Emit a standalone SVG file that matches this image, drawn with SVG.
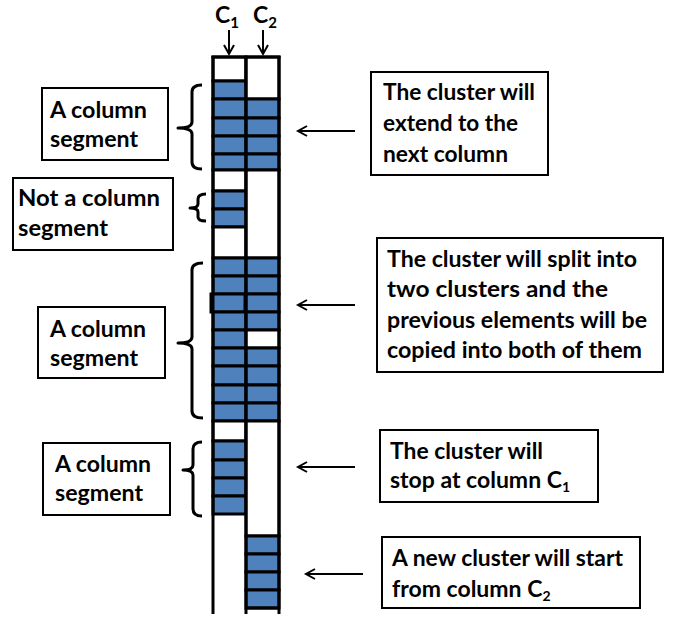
<svg xmlns="http://www.w3.org/2000/svg" width="675" height="619" viewBox="0 0 675 619">
<style>
.t{font-family:Lato,"Liberation Sans",sans-serif;font-weight:700;font-size:23px;fill:#000}
.box{fill:#fff;stroke:#000;stroke-width:2}
.b{fill:#4F81BD;stroke:#000;stroke-width:3}
.w{fill:#fff;stroke:#000;stroke-width:3}
.br{fill:none;stroke:#000;stroke-width:3;stroke-linejoin:round}
.ar{fill:none;stroke:#000;stroke-width:2;marker-end:url(#ah)}
</style>
<defs>
<marker id="ah" markerUnits="userSpaceOnUse" markerWidth="20" markerHeight="20" refX="0" refY="0" orient="auto" overflow="visible">
<path d="M-9,-5 L0,0 L-9,5" fill="none" stroke="#000" stroke-width="2"/>
</marker>
</defs>
<rect width="675" height="619" fill="#fff"/>

<g id="column-grid">
<rect x="213" y="57" width="66" height="562" fill="#fff"/>
<!-- C1 -->
<rect class="w" x="213" y="57" width="33" height="24"/>
<rect class="b" x="213" y="81" width="33" height="18"/>
<rect class="b" x="213" y="99" width="33" height="19"/>
<rect class="b" x="213" y="118" width="33" height="18"/>
<rect class="b" x="213" y="136" width="33" height="18"/>
<rect class="b" x="213" y="154" width="33" height="16"/>
<rect class="w" x="213" y="170" width="33" height="21"/>
<rect class="b" x="213" y="191" width="33" height="18"/>
<rect class="b" x="213" y="209" width="33" height="18"/>
<rect class="w" x="213" y="227" width="33" height="31"/>
<rect class="b" x="213" y="258" width="33" height="18"/>
<rect class="b" x="213" y="276" width="33" height="18"/>
<rect class="b" x="211" y="294" width="34" height="18"/>
<rect class="b" x="213" y="312" width="33" height="18"/>
<rect class="b" x="213" y="330" width="33" height="18"/>
<rect class="b" x="213" y="348" width="33" height="18"/>
<rect class="b" x="213" y="366" width="33" height="19"/>
<rect class="b" x="213" y="385" width="33" height="18"/>
<rect class="b" x="213" y="403" width="33" height="18"/>
<rect class="w" x="213" y="421" width="33" height="20"/>
<rect class="b" x="213" y="441" width="33" height="19"/>
<rect class="b" x="213" y="460" width="33" height="18"/>
<rect class="b" x="213" y="478" width="33" height="18"/>
<rect class="b" x="213" y="496" width="33" height="18"/>
<!-- C2 -->
<rect class="w" x="246" y="57" width="33" height="42"/>
<rect class="b" x="246" y="99" width="33" height="19"/>
<rect class="b" x="246" y="118" width="33" height="18"/>
<rect class="b" x="246" y="136" width="33" height="18"/>
<rect class="b" x="246" y="154" width="33" height="16"/>
<rect class="w" x="246" y="170" width="33" height="88"/>
<rect class="b" x="246" y="258" width="33" height="18"/>
<rect class="b" x="246" y="276" width="33" height="18"/>
<rect class="b" x="246" y="294" width="33" height="18"/>
<rect class="b" x="246" y="312" width="33" height="18"/>
<rect class="w" x="246" y="330" width="33" height="18"/>
<rect class="b" x="246" y="348" width="33" height="18"/>
<rect class="b" x="246" y="366" width="33" height="19"/>
<rect class="b" x="246" y="385" width="33" height="18"/>
<rect class="b" x="246" y="403" width="33" height="18"/>
<rect class="w" x="246" y="421" width="33" height="115"/>
<rect class="b" x="246" y="536" width="33" height="18"/>
<rect class="b" x="246" y="554" width="33" height="18"/>
<rect class="b" x="246" y="572" width="33" height="18"/>
<rect class="b" x="246" y="590" width="33" height="18"/>
<line x1="246" y1="608" x2="279" y2="608" stroke="#000" stroke-width="3"/>
<!-- vertical lines -->
<line x1="213" y1="56" x2="213" y2="614" stroke="#000" stroke-width="3"/>
<line x1="246" y1="56" x2="246" y2="614" stroke="#000" stroke-width="3"/>
<line x1="279" y1="56" x2="279" y2="614" stroke="#000" stroke-width="3"/>
<line x1="211.5" y1="57" x2="280.5" y2="57" stroke="#000" stroke-width="3"/>
</g>

<g id="label-c1">
<text class="t" x="215" y="23" font-size="24">C<tspan font-size="15" dy="5">1</tspan></text>
</g>
<g id="label-c2">
<text class="t" x="253" y="23" font-size="24">C<tspan font-size="15" dy="5">2</tspan></text>
</g>

<g id="box-seg1">
<rect class="box" x="42" y="88" width="126" height="72"/>
<text class="t" x="50" y="118" textLength="97" lengthAdjust="spacingAndGlyphs">A column</text>
<text class="t" x="50" y="147" textLength="88" lengthAdjust="spacingAndGlyphs">segment</text>
</g>
<g id="box-notseg">
<rect class="box" x="13" y="178" width="160" height="72"/>
<text class="t" x="18" y="206" textLength="142" lengthAdjust="spacingAndGlyphs">Not a column</text>
<text class="t" x="18" y="236" textLength="90" lengthAdjust="spacingAndGlyphs">segment</text>
</g>
<g id="box-seg2">
<rect class="box" x="38" y="307" width="127" height="71"/>
<text class="t" x="50" y="337" textLength="96" lengthAdjust="spacingAndGlyphs">A column</text>
<text class="t" x="50" y="366" textLength="88" lengthAdjust="spacingAndGlyphs">segment</text>
</g>
<g id="box-seg3">
<rect class="box" x="43" y="443" width="127" height="72"/>
<text class="t" x="55" y="472" textLength="96" lengthAdjust="spacingAndGlyphs">A column</text>
<text class="t" x="55" y="501" textLength="88" lengthAdjust="spacingAndGlyphs">segment</text>
</g>

<g id="box-extend">
<rect class="box" x="371" y="72" width="177" height="103"/>
<text class="t" x="383" y="100" textLength="152" lengthAdjust="spacingAndGlyphs">The cluster will</text>
<text class="t" x="383" y="131" textLength="135" lengthAdjust="spacingAndGlyphs">extend to the</text>
<text class="t" x="383" y="162" textLength="125" lengthAdjust="spacingAndGlyphs">next column</text>
</g>
<g id="box-split">
<rect class="box" x="377" y="238" width="286" height="134"/>
<text class="t" x="387" y="267" textLength="250" lengthAdjust="spacingAndGlyphs">The cluster will split into</text>
<text class="t" x="387" y="297" textLength="221" lengthAdjust="spacingAndGlyphs">two clusters and the</text>
<text class="t" x="387" y="328" textLength="260" lengthAdjust="spacingAndGlyphs">previous elements will be</text>
<text class="t" x="387" y="358" textLength="255" lengthAdjust="spacingAndGlyphs">copied into both of them</text>
</g>
<g id="box-stop">
<rect class="box" x="380" y="430" width="218" height="72"/>
<text class="t" x="390" y="459" textLength="153" lengthAdjust="spacingAndGlyphs">The cluster will</text>
<text class="t" x="390" y="488">stop at column C<tspan font-size="14" dy="4">1</tspan></text>
</g>
<g id="box-new">
<rect class="box" x="382" y="537" width="258" height="71"/>
<text class="t" x="392" y="566" textLength="231" lengthAdjust="spacingAndGlyphs">A new cluster will start</text>
<text class="t" x="392" y="597">from column C<tspan font-size="14" dy="4">2</tspan></text>
</g>

<g id="braces">
<path class="br" d="M202,85 Q192,85 192,92 L192,122 Q192,128 178,128 Q192,128 192,134 L192,162 Q192,169 202,169"/>
<path class="br" d="M206,194 Q198,194 198,199 L198,204 Q198,208 190,208 Q198,208 198,212 L198,217 Q198,221 206,221"/>
<path class="br" d="M203,263 Q192,263 192,270 L192,337 Q192,343 178,343 Q192,343 192,349 L192,411 Q192,418 203,418"/>
<path class="br" d="M202,442 Q193,442 193,449 L193,465 Q193,470 183,470 Q193,470 193,475 L193,509 Q193,516 202,516"/>
</g>

<g id="connectors">
<line class="ar" x1="229" y1="30" x2="229" y2="54"/>
<line class="ar" x1="263" y1="30" x2="263" y2="54"/>
<line class="ar" x1="355" y1="131" x2="298" y2="131"/>
<line class="ar" x1="355" y1="305" x2="298" y2="305"/>
<line class="ar" x1="355" y1="467" x2="298" y2="467"/>
<line class="ar" x1="363" y1="574" x2="306" y2="574"/>
</g>
</svg>
